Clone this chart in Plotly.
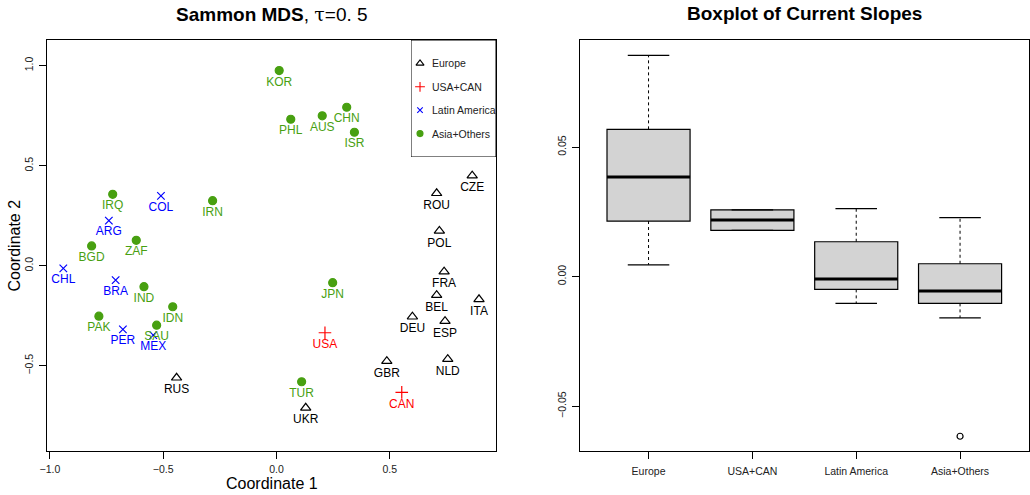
import plotly.graph_objects as go

W, H = 1030, 495
FONT = "Liberation Sans, Arial, Helvetica, sans-serif"

# ---------------- Data: Sammon MDS coordinates ----------------
eur_names = ["RUS", "UKR", "GBR", "NLD", "DEU", "ESP", "BEL", "FRA", "ITA", "POL", "ROU", "CZE"]
eur_x = [-0.441, 0.129, 0.487, 0.756, 0.600, 0.744, 0.707, 0.740, 0.894, 0.719, 0.707, 0.864]
eur_y = [-0.560, -0.710, -0.477, -0.467, -0.255, -0.277, -0.147, -0.030, -0.168, 0.174, 0.362, 0.450]

nam_names = ["USA", "CAN"]
nam_x = [0.214, 0.553]
nam_y = [-0.335, -0.633]

lat_names = ["COL", "ARG", "CHL", "BRA", "PER", "MEX"]
lat_x = [-0.510, -0.740, -0.941, -0.710, -0.678, -0.544]
lat_y = [0.349, 0.225, -0.013, -0.072, -0.318, -0.347]

asi_names = ["KOR", "PHL", "AUS", "CHN", "ISR", "IRQ", "IRN", "ZAF", "BGD", "IND",
             "IDN", "PAK", "SAU", "JPN", "TUR"]
asi_x = [0.012, 0.063, 0.202, 0.310, 0.344, -0.723, -0.282, -0.619, -0.816, -0.585,
         -0.458, -0.784, -0.529, 0.248, 0.111]
asi_y = [0.975, 0.732, 0.749, 0.792, 0.667, 0.357, 0.325, 0.127, 0.099, -0.105,
         -0.205, -0.252, -0.297, -0.085, -0.580]

groups = ["Europe", "USA+CAN", "Latin America", "Asia+Others"]

# ---------------- Data: boxplot statistics of current slopes ----------------
box_pos = [1, 2, 3, 4]
box_lo = [0.0046, 0.0179, -0.0103, -0.0159]
box_q1 = [0.0215, 0.0179, -0.0049, -0.0103]
box_med = [0.0385, 0.0219, -0.0009, -0.0055]
box_q3 = [0.0569, 0.0258, 0.0135, 0.0050]
box_hi = [0.0855, 0.0258, 0.0263, 0.0228]
out_pos = [4]
out_val = [-0.0616]

GREEN = "#48A011"
styles = {
    "Europe": dict(symbol="triangle-up-open", color="black", size=9),
    "USA+CAN": dict(symbol="cross-thin-open", color="#FF0000", size=9),
    "Latin America": dict(symbol="x-thin-open", color="#0000FF", size=7.5),
    "Asia+Others": dict(symbol="circle", color=GREEN, size=8),
}

fig = go.Figure()

series = [
    ("Europe", eur_names, eur_x, eur_y),
    ("USA+CAN", nam_names, nam_x, nam_y),
    ("Latin America", lat_names, lat_x, lat_y),
    ("Asia+Others", asi_names, asi_x, asi_y),
]
for g, names, xs, ys in series:
    st = styles[g]
    fig.add_trace(go.Scatter(
        x=xs, y=ys, text=names, mode="markers+text", name=g,
        textposition="bottom center",
        textfont=dict(family=FONT, size=12, color=st["color"]),
        marker=dict(symbol=st["symbol"], size=st["size"], color=st["color"],
                    line=dict(color=st["color"], width=1.2)),
        xaxis="x", yaxis="y", showlegend=False, cliponaxis=False,
    ))

# legend samples (drawn on a hidden overlay axis covering the legend box)
leg_y = [0.8, 0.6, 0.4, 0.2]
for g, ly in zip(groups, leg_y):
    st = styles[g]
    fig.add_trace(go.Scatter(
        x=[0.106], y=[ly], mode="markers", showlegend=False, hoverinfo="skip",
        marker=dict(symbol=st["symbol"], size=st["size"] - 2, color=st["color"],
                    line=dict(color=st["color"], width=1.1)),
        xaxis="x3", yaxis="y3",
    ))

# ---------------- Boxplots ----------------
BW = 0.8
CAP = 0.4
for p, lo, q1, md, q3, hi in zip(box_pos, box_lo, box_q1, box_med, box_q3, box_hi):
    fig.add_trace(go.Box(
        x=[p], q1=[q1], median=[md], q3=[q3], lowerfence=[q1], upperfence=[q3],
        width=BW, fillcolor="#D3D3D3", line=dict(color="black", width=1.2),
        boxpoints=False, whiskerwidth=0, showlegend=False,
        xaxis="x2", yaxis="y2",
    ))
    # dashed whiskers
    fig.add_trace(go.Scatter(
        x=[p, p, None, p, p], y=[q3, hi, None, q1, lo], mode="lines",
        line=dict(color="black", width=1, dash="3px,3px"), showlegend=False,
        hoverinfo="skip", xaxis="x2", yaxis="y2",
    ))
    # whisker caps
    fig.add_trace(go.Scatter(
        x=[p - CAP / 2, p + CAP / 2, None, p - CAP / 2, p + CAP / 2],
        y=[hi, hi, None, lo, lo], mode="lines",
        line=dict(color="black", width=1.2), showlegend=False,
        hoverinfo="skip", xaxis="x2", yaxis="y2",
    ))
    # thick median
    fig.add_trace(go.Scatter(
        x=[p - BW / 2, p + BW / 2], y=[md, md], mode="lines",
        line=dict(color="black", width=3), showlegend=False,
        hoverinfo="skip", xaxis="x2", yaxis="y2",
    ))

fig.add_trace(go.Scatter(
    x=out_pos, y=out_val, mode="markers",
    marker=dict(symbol="circle-open", size=6, color="black", line=dict(width=1.2)),
    showlegend=False, xaxis="x2", yaxis="y2",
))

# ---------------- Layout ----------------
def px_x(p):
    return p / W

def px_y(p):
    return (H - p) / H

L1, R1 = 47, 496
L2, R2 = 580, 1028.6
TOP, BOT = 40, 451

axis_common = dict(
    showgrid=False, zeroline=False, showline=True, mirror=True,
    linecolor="black", linewidth=1, ticks="outside", ticklen=7, tickwidth=1,
    tickcolor="black", tickfont=dict(family=FONT, size=10.5, color="#222"),
    automargin=False,
)

fig.update_layout(
    width=W, height=H, template="none",
    margin=dict(l=0, r=0, t=0, b=0),
    paper_bgcolor="white", plot_bgcolor="white",
    font=dict(family=FONT, color="black"),
    xaxis=dict(domain=[px_x(L1), px_x(R1)], range=[-1.013, 0.969],
               tickvals=[-1.0, -0.5, 0.0, 0.5], tickformat=".1f", anchor="y",
               ticklabelstandoff=1, **axis_common),
    yaxis=dict(domain=[px_y(BOT), px_y(TOP)], range=[-0.926, 1.128],
               tickvals=[-0.5, 0.0, 0.5, 1.0], tickformat=".1f", tickangle=-90,
               anchor="x", ticklabelstandoff=2, **axis_common),
    xaxis2=dict(domain=[px_x(L2), px_x(R2)], range=[0.34, 4.66],
                tickvals=box_pos, ticktext=groups, anchor="y2",
                ticklabelstandoff=3, **axis_common),
    yaxis2=dict(domain=[px_y(BOT), px_y(TOP)], range=[-0.0673, 0.0914],
                tickvals=[-0.05, 0.0, 0.05], tickformat=".2f", tickangle=-90,
                anchor="x2", ticklabelstandoff=2, **axis_common),
    xaxis3=dict(domain=[px_x(411), px_x(R1)], range=[0, 1], visible=False,
                anchor="y3", fixedrange=True),
    yaxis3=dict(domain=[px_y(157), px_y(TOP)], range=[0, 1], visible=False,
                anchor="x3", fixedrange=True),
)

fig.add_shape(type="rect", xref="x3", yref="y3", x0=0, x1=1, y0=0, y1=1,
              line=dict(color="black", width=1), layer="above")

for g, ly in zip(groups, leg_y):
    fig.add_annotation(x=0.22, y=ly, xref="x3", yref="y3", text=g, showarrow=False,
                       xanchor="left", yanchor="middle",
                       font=dict(family=FONT, size=10.5, color="#222"))

fig.add_annotation(
    x=px_x((L1 + R1) / 2), y=px_y(14), xref="paper", yref="paper",
    text="<b>Sammon MDS</b>, <span style='font-family:DejaVu Serif'>τ</span>=0. 5",
    showarrow=False, xanchor="center", yanchor="middle",
    font=dict(family=FONT, size=19, color="black"))
fig.add_annotation(
    x=px_x((L2 + R2) / 2), y=px_y(14), xref="paper", yref="paper",
    text="<b>Boxplot of Current Slopes</b>",
    showarrow=False, xanchor="center", yanchor="middle",
    font=dict(family=FONT, size=19, color="black"))
fig.add_annotation(
    x=px_x((L1 + R1) / 2), y=px_y(483), xref="paper", yref="paper",
    text="Coordinate 1", showarrow=False, xanchor="center", yanchor="middle",
    font=dict(family=FONT, size=16, color="black"))
fig.add_annotation(
    x=px_x(14), y=px_y((TOP + BOT) / 2), xref="paper", yref="paper",
    text="Coordinate 2", showarrow=False, xanchor="center", yanchor="middle",
    textangle=-90, font=dict(family=FONT, size=16, color="black"))

fig.write_html("out.html")
